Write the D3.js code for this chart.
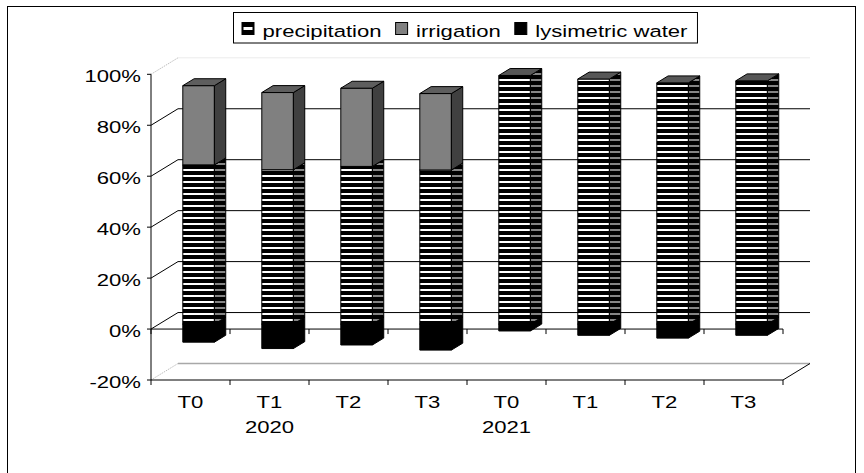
<!DOCTYPE html>
<html>
<head>
<meta charset="utf-8">
<script src="https://cdn.jsdelivr.net/npm/d3@7"></script>
<style>
  body { margin: 0; background: #fff; }
  svg { display: block; }
  text { font-family: "Liberation Sans", Arial, sans-serif; font-size: 17px; fill: #000; }
</style>
</head>
<body>
<div id="chart"></div>
<script>
// values (percent)
const categories = ["T0", "T1", "T2", "T3", "T0", "T1", "T2", "T3"];
const years = ["", "2020", "", "", "2021", "", "", ""];
const precipitation = [62.5, 60.6, 61.9, 60.5, 97.6, 96.2, 94.7, 95.5];
const irrigation = [31.1, 30.3, 30.7, 30.0, 0, 0, 0, 0];
const lysimetric = [-7.1, -9.6, -8.2, -10.2, -2.7, -4.4, -5.5, -4.4];
const yTicks = [-20, 0, 20, 40, 60, 80, 100];
const seriesNames = ["precipitation", "irrigation", "lysimetric water"];

const width = 864, height = 473;
const STRETCH = 1.3;       // the picture's text is wide
const DX = 27, DY = -16.5; // depth of the plot box
const barFront = 0.3, barBack = 0.72;

const svg = d3.select("#chart").append("svg")
  .attr("width", width).attr("height", height);

const defs = svg.append("defs");
const stripes = (id, light) => {
  const p = defs.append("pattern").attr("id", id)
    .attr("patternUnits", "userSpaceOnUse").attr("width", 6).attr("height", 6);
  p.append("rect").attr("width", 6).attr("height", 6).attr("fill", "#000");
  p.append("rect").attr("y", 1).attr("width", 6).attr("height", 2).attr("fill", light);
};
stripes("precipFront", "#fff");
stripes("precipSide", "#858585");

// outer frame
svg.append("rect").attr("x", 7.5).attr("y", 6.5).attr("width", 848).attr("height", 480)
  .attr("fill", "none").attr("stroke", "#000");

const x = d3.scaleBand().domain(d3.range(categories.length)).range([151, 783]);
const y = d3.scaleLinear().domain([-20, 100]).range([380, 74.3]);
const barW = x.bandwidth() / 2.5;

const P = (px, py, d) => [px + d * DX, py + d * DY];
const x0 = x.range()[0], x1 = x.range()[1];

const txt = (g, tx, ty, s, anchor) =>
  g.append("text")
    .attr("transform", `translate(${tx},${ty}) scale(${STRETCH},1)`)
    .attr("text-anchor", anchor)
    .text(s);

// walls
const walls = svg.append("g");
yTicks.forEach((t) => {
  const edge = t === 100 || t === -20;
  const a = P(x0, y(t), 0), b = P(x0, y(t), 1), c = P(x1, y(t), 1);
  walls.append("line")
    .attr("x1", a[0]).attr("y1", a[1]).attr("x2", b[0]).attr("y2", b[1])
    .attr("stroke", edge ? "#bdbdbd" : "#000")
    .attr("stroke-dasharray", edge ? "1.5,1" : null);
  walls.append("line")
    .attr("x1", b[0]).attr("y1", b[1]).attr("x2", c[0]).attr("y2", c[1])
    .attr("stroke", t === 100 ? "#ececec" : t === -20 ? "#a8a8a8" : "#000")
    .attr("stroke-width", t === -20 ? 1.6 : 1);
});

// floor right edge
{
  const a = P(x1, y(-20), 0), b = P(x1, y(-20), 1);
  walls.append("line").attr("x1", a[0]).attr("y1", a[1]).attr("x2", b[0]).attr("y2", b[1])
    .attr("stroke", "#000");
}

// category axis lines at -20% and 0%
[-20, 0].forEach((t) => {
  const g = svg.append("g");
  g.append("line").attr("x1", x0).attr("x2", x1).attr("y1", y(t)).attr("y2", y(t))
    .attr("stroke", "#000");
  d3.range(categories.length + 1).forEach((i) => {
    const tx = i < categories.length ? x(i) : x1;
    g.append("line").attr("x1", tx).attr("x2", tx)
      .attr("y1", y(t)).attr("y2", y(t) + 5).attr("stroke", "#000");
  });
});

// value axis
const yAxis = svg.append("g");
yAxis.append("line").attr("x1", x0).attr("x2", x0).attr("y1", y(100)).attr("y2", y(-20))
  .attr("stroke", "#000");
yTicks.forEach((t) => {
  yAxis.append("line").attr("x1", x0 - 4).attr("x2", x0).attr("y1", y(t)).attr("y2", y(t))
    .attr("stroke", "#000");
  txt(yAxis, 141, y(t) + 7.5, t + "%", "end");
});

// category labels
const xLabels = svg.append("g");
categories.forEach((c, i) => {
  const cx = x(i) + x.bandwidth() / 2;
  txt(xLabels, cx, 408, c, "middle");
  if (years[i]) txt(xLabels, cx, 432.5, years[i], "middle");
});

// 3D bar segment
const bars = svg.append("g").attr("stroke", "#000").attr("stroke-width", 1)
  .attr("stroke-linejoin", "round");
function box(i, v0, v1, front, side, top) {
  const xl = x(i) + (x.bandwidth() - barW) / 2;
  const yl = y(Math.min(v0, v1)), yh = y(Math.max(v0, v1));
  const f = (px, py) => P(px, py, barFront);
  const b = (px, py) => P(px, py, barBack);
  const fl = f(xl, yh);
  bars.append("rect").attr("x", fl[0]).attr("y", fl[1])
    .attr("width", barW).attr("height", yl - yh).attr("fill", front);
  bars.append("polygon")
    .attr("points", [f(xl + barW, yh), f(xl + barW, yl), b(xl + barW, yl), b(xl + barW, yh)].join(" "))
    .attr("fill", side);
  bars.append("polygon")
    .attr("points", [f(xl, yh), f(xl + barW, yh), b(xl + barW, yh), b(xl, yh)].join(" "))
    .attr("fill", top);
}

categories.forEach((c, i) => {
  box(i, 0, lysimetric[i], "#000", "#000", "#000");
  box(i, 0, precipitation[i], "url(#precipFront)", "url(#precipSide)", "#575757");
  if (irrigation[i] > 0)
    box(i, precipitation[i], precipitation[i] + irrigation[i], "#808080", "#404040", "#5e5e5e");
});

// legend
const legend = svg.append("g");
const frame = legend.append("rect").attr("y", 12.5).attr("height", 30.5)
  .attr("fill", "#fff").attr("stroke", "#000");
let lx = 242;
seriesNames.forEach((name, i) => {
  const sw = legend.append("g").attr("transform", `translate(${lx},22.5)`);
  if (i === 0) {
    sw.append("rect").attr("width", 12).attr("height", 12).attr("fill", "#000").attr("stroke", "#000");
    sw.append("rect").attr("x", 1.5).attr("y", 4.5).attr("width", 9).attr("height", 3).attr("fill", "#fff");
  } else {
    sw.append("rect").attr("width", 12).attr("height", 12)
      .attr("fill", i === 1 ? "#808080" : "#000").attr("stroke", "#000");
  }
  const t = txt(legend, lx + 20.5, 37, name, "start");
  lx += 20.5 + t.node().getComputedTextLength() * STRETCH + 14;
});
frame.attr("x", 233.5).attr("width", lx - 14 + 10 - 233.5);
</script>
</body>
</html>
